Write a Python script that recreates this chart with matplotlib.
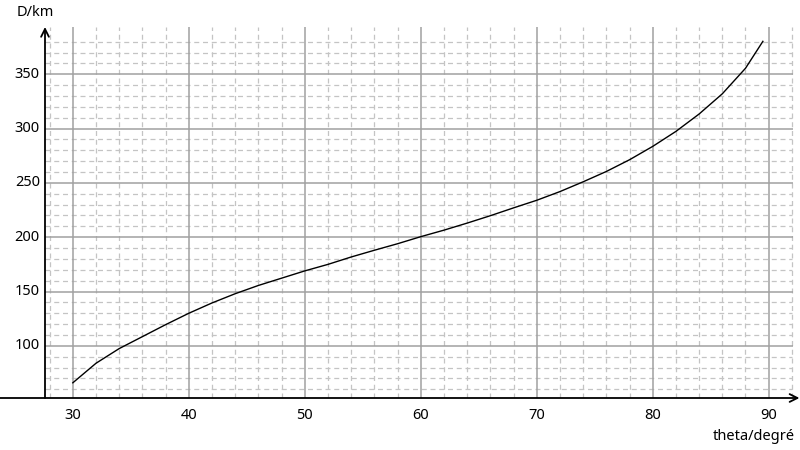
import numpy as np
import matplotlib
matplotlib.use('Agg')
import matplotlib.pyplot as plt

# valeurs
theta = [30, 32, 34, 36, 38, 40, 42, 44, 46, 48, 50, 52, 54, 56, 58, 60,
         62, 64, 66, 68, 70, 72, 74, 76, 78, 80, 82, 84, 86, 88, 89.5]
D = [66, 84, 97.5, 108.5, 119.5, 130, 139.5, 148, 155.6, 162.3, 169, 175,
     181.8, 188, 194, 200.5, 206.5, 213, 219.8, 227, 234, 242, 251,
     260.5, 271.3, 283.6, 297.4, 313.4, 332, 355.5, 380.3]

x_ticks = [30, 40, 50, 60, 70, 80, 90]
y_ticks = [100, 150, 200, 250, 300, 350]

plt.rcParams['font.family'] = ['Noto Sans', 'DejaVu Sans']

x0, y0 = 27.6, 52          # croisement des axes
x_min, x_max = 23.72, 92.7
y_top = 393.5

fig = plt.figure(figsize=(8, 4.5), dpi=100)
ax = fig.add_axes([0, 1 - 398 / 450, 1, (398 - 27) / 450])
ax.set_xlim(x_min, x_max)
ax.set_ylim(y0, y_top)
ax.axis('off')

# grille secondaire (pointillés)
minor_x = [v for v in np.arange(28, 93, 2) if v % 10 != 0]
minor_y = [v for v in np.arange(60, 390, 10) if v % 50 != 0]
ax.vlines(minor_x, y0, y_top, colors='#c4c4c4', linestyles=(0, (4, 3)), lw=0.9)
ax.hlines(minor_y, x0, 92, colors='#c4c4c4', linestyles=(0, (4, 3)), lw=0.9)

# grille principale
ax.vlines(x_ticks, y0, y_top, colors='#a0a0a0', lw=1.1)
ax.hlines(y_ticks, x0, 92.1, colors='#a0a0a0', lw=1.1)

# courbe
ax.plot(theta, D, color='black', lw=1.0)

# axes avec flèches
ax.annotate('', xy=(x_max - 0.05, y0), xytext=(x_min, y0),
            arrowprops=dict(arrowstyle='->', color='black', lw=1.3,
                            mutation_scale=14, shrinkA=0, shrinkB=0))
ax.annotate('', xy=(x0, y_top), xytext=(x0, y0),
            arrowprops=dict(arrowstyle='->', color='black', lw=1.3,
                            mutation_scale=14, shrinkA=0, shrinkB=0))

# étiquettes
for t in x_ticks:
    ax.text(t, y0 - 9, str(t), ha='center', va='top', fontsize=10.5)
for t in y_ticks:
    ax.text(x0 - 0.45, t, str(t), ha='right', va='center', fontsize=10.5)

fig.text(35 / 800, 1 - 13 / 450, 'D/km', ha='center', va='center', fontsize=10.5)
fig.text(795 / 800, 1 - 437 / 450, 'theta/degré', ha='right', va='center', fontsize=10.5)

fig.savefig('out.png', dpi=100)
